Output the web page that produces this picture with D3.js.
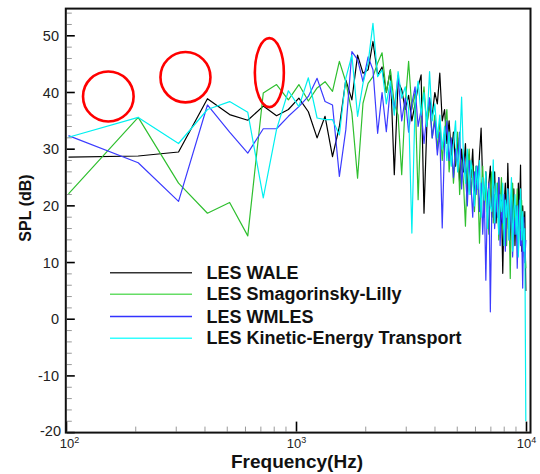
<!DOCTYPE html>
<html><head><meta charset="utf-8">
<script src="https://cdn.jsdelivr.net/npm/d3@7"></script>
<style>
html,body{margin:0;padding:0;background:#fff;}
svg{display:block;font-family:"Liberation Sans",Arial,Helvetica,sans-serif;}
</style></head>
<body>
<svg id="chart" width="540" height="474"></svg>
<script>
// ---------- data ----------
const freq = [102,205,307,410,512,614,717,819,922,1024,1126,1229,1331,1434,1536,1638,1741,1843,1946,2048,
2150,2253,2355,2458,2560,2662,2765,2867,2970,3072,3174,3277,3379,3482,3584,3686,3789,3891,3994,4096,
4198,4301,4403,4506,4608,4710,4813,4915,5018,5120,5222,5325,5427,5530,5632,5734,5837,5939,6042,6144,
6246,6349,6451,6554,6656,6758,6861,6963,7066,7168,7270,7373,7475,7578,7680,7782,7885,7987,8090,8192,
8294,8397,8499,8602,8704,8806,8909,9011,9114,9216,9318,9421,9523,9626,9728,9830,9933];

const wale = [28.6,28.8,29.5,38.9,36.1,35.1,37.6,35.9,37.0,39.0,36.6,32.0,35.8,28.7,34.0,42.2,38.7,46.6,43.4,44.0,
49.0,43.1,44.5,40.0,44.0,25.5,42.0,40.5,37.0,39.5,35.0,38.0,41.0,43.1,18.7,34.0,39.0,36.0,40.0,38.0,
43.4,35.0,37.0,31.0,35.0,29.0,33.0,27.0,32.0,24.0,30.0,26.0,31.0,22.0,29.0,25.0,30.0,21.0,27.0,23.0,
29.0,33.7,24.0,20.0,26.0,19.0,24.0,27.0,18.0,23.0,26.0,17.0,22.0,25.0,15.0,21.0,8.1,20.0,24.0,16.0,
27.5,19.0,14.0,22.0,17.0,23.0,13.0,20.0,16.0,24.0,18.0,27.2,12.0,20.0,15.0,19.0,5.0];

const smagorinsky = [22.1,35.6,24.0,18.7,20.6,14.7,39.9,41.4,38.7,41.4,38.5,40.8,41.9,40.2,45.5,41.9,36.4,24.9,38.1,41.6,
42.8,45.2,47.0,40.0,44.0,38.0,36.0,25.5,38.0,45.5,37.0,40.0,21.1,36.0,41.0,34.0,38.0,32.0,36.0,30.0,
35.0,28.0,33.0,37.0,26.0,31.0,24.0,29.0,33.0,22.0,28.0,24.0,16.4,26.0,30.0,22.0,27.0,19.0,25.0,24.0,
13.4,22.0,27.0,18.0,24.0,20.0,15.0,23.0,26.0,17.0,22.0,19.0,24.0,14.0,20.0,25.0,16.0,21.0,18.0,13.0,
22.0,19.0,7.2,21.0,24.0,15.0,20.0,17.0,23.0,12.0,19.0,16.0,21.0,11.0,17.0,14.0,9.0];

const wmles = [32.4,27.6,20.8,37.8,33.0,29.3,33.6,33.6,35.8,37.5,39.3,42.5,38.4,37.8,25.2,33.4,47.2,45.8,41.9,46.3,
44.0,32.8,40.0,33.1,41.0,37.0,43.0,35.0,39.0,33.0,38.0,41.0,34.0,37.0,31.0,36.0,39.0,32.0,35.0,29.0,
33.0,16.1,31.0,35.0,28.0,32.0,25.0,30.0,27.0,33.0,23.0,29.0,26.0,20.0,28.0,24.0,18.0,26.0,22.0,27.0,
19.0,24.0,15.0,22.0,6.9,21.0,24.0,1.3,20.0,23.0,16.0,21.0,18.0,25.0,13.0,20.0,17.0,22.0,12.0,19.0,
23.0,14.0,18.0,21.0,11.0,18.0,15.0,20.0,9.0,17.0,21.0,13.0,16.0,5.5,18.0,10.0,14.0];

const kineticEnergy = [32.1,35.6,31.0,37.0,38.4,36.5,21.4,33.5,40.3,37.5,42.6,35.5,35.2,35.2,32.5,42.5,46.6,35.8,41.6,45.2,
52.2,42.8,44.0,38.0,42.0,36.0,43.7,39.0,41.0,37.0,15.2,38.0,42.0,36.0,40.0,34.0,43.7,35.0,38.0,32.0,
36.0,30.0,34.0,28.0,33.0,27.0,31.0,35.0,26.0,30.0,39.2,28.0,24.0,30.0,22.0,28.0,25.0,20.0,27.0,23.0,
28.0,18.0,25.0,21.0,26.0,16.0,23.0,20.0,19.0,28.1,17.0,24.0,20.0,15.0,22.0,19.0,24.0,13.0,21.0,18.0,
23.0,14.0,20.0,25.0,12.0,19.0,22.0,15.0,20.0,11.0,18.0,23.0,14.0,19.0,12.0,16.0,-18.0];

const seriesNames = ["LES WALE","LES Smagorinsky-Lilly","LES WMLES","LES Kinetic-Energy Transport"];
const seriesValues = [wale, smagorinsky, wmles, kineticEnergy];
const seriesColors = ["#000000","#2fbf2f","#3b3bff","#00f0f0"];
const legendColors = ["#333333","#66dd66","#3333ff","#33ffff"];

const yTickValues = [-20,-10,0,10,20,30,40,50];
const xTickValues = [100,1000,10000];
const xTickExponents = ["2","3","4"];
// annotation centres (frequency, dB)
const annoFreq = [152, 329, 762];
const annoDb = [39.3, 42.7, 43.5];

// ---------- scales ----------
const svg = d3.select("#chart");
const x = d3.scaleLog().domain([100, 10000]).range([66.5, 526.5]);
const y = d3.scaleLinear().domain([-20, 54.8]).range([432.6, 8.6]);
const pL = 65.8, pR = 530.5, pT = y(54.8), pB = y(-20);

// clip
svg.append("defs").append("clipPath").attr("id","clip")
  .append("rect").attr("x",pL).attr("y",pT).attr("width",pR-pL).attr("height",pB-pT);

// ---------- lines ----------
const line = d3.line().x((d,i)=>x(freq[i])).y(d=>y(d));
const plot = svg.append("g").attr("clip-path","url(#clip)");
seriesValues.forEach((vals,si)=>{
  plot.append("path").datum(vals)
    .attr("d", line)
    .attr("fill","none")
    .attr("stroke", seriesColors[si])
    .attr("stroke-width", 1.2)
    .attr("stroke-linejoin","round");
});

// ---------- ticks ----------
const g = svg.append("g");
d3.range(-20, 55, 2).filter(v=>v%10!==0).forEach(v=>{
  g.append("line").attr("x1",pL+1).attr("x2",pL+6).attr("y1",y(v)).attr("y2",y(v))
   .attr("stroke","#999").attr("stroke-width",1);
});
yTickValues.forEach(v=>{
  g.append("line").attr("x1",pL+1).attr("x2",pL+9).attr("y1",y(v)).attr("y2",y(v))
   .attr("stroke","#000").attr("stroke-width",1.6);
  g.append("text").attr("x", v===-20 ? 61 : 59).attr("y", y(v)+(v===-20 ? 3.5 : 5.2))
   .attr("text-anchor","end").attr("font-size",14.5).attr("fill","#222").text(v);
});
[2,3,4,5,6,7,8,9].forEach(m=>{[100,1000].forEach(dec=>{
  const f = m*dec;
  g.append("line").attr("x1",x(f)).attr("x2",x(f)).attr("y1",pB-1).attr("y2",pB-6)
   .attr("stroke","#999").attr("stroke-width",1);
});});
xTickValues.forEach((v,i)=>{
  g.append("line").attr("x1",x(v)).attr("x2",x(v)).attr("y1",pB-1).attr("y2",pB-11)
   .attr("stroke","#000").attr("stroke-width",1.6);
  const t = g.append("text").attr("x",x(v) + (i===0 ? 3 : 0)).attr("y",447.5).attr("text-anchor","middle")
   .attr("font-size",13).attr("fill","#222");
  t.append("tspan").text("10");
  t.append("tspan").attr("font-size",9).attr("dy",-5).text(xTickExponents[i]);
});

// frame
svg.append("rect").attr("x",pL).attr("y",pT).attr("width",pR-pL).attr("height",pB-pT)
  .attr("fill","none").attr("stroke","#111").attr("stroke-width",2);

// axis titles
svg.append("text").attr("x",297).attr("y",467.5).attr("text-anchor","middle")
  .attr("font-size",19).attr("font-weight","bold").attr("fill","#111").text("Frequency(Hz)");
svg.append("text").attr("transform","translate(31,208) rotate(-90)").attr("text-anchor","middle")
  .attr("font-size",16).attr("font-weight","bold").attr("fill","#111").text("SPL (dB)");

// ---------- legend ----------
const legY = [272.7, 294.3, 316.5, 338.3];
const leg = svg.append("g");
seriesNames.forEach((n,i)=>{
  leg.append("line").attr("x1",110).attr("x2",192).attr("y1",legY[i]).attr("y2",legY[i])
    .attr("stroke",legendColors[i]).attr("stroke-width",1.5);
  leg.append("text").attr("x",206.5).attr("y",legY[i]+6).attr("font-size",18)
    .attr("font-weight","bold").attr("fill","#111").text(n);
});

// ---------- annotations ----------
const annoR = [[25.3,25],[25,25.2],[14.5,34.5]];
annoFreq.forEach((f,i)=>{
  svg.append("ellipse").attr("cx",x(f)).attr("cy",y(annoDb[i]))
    .attr("rx",annoR[i][0]).attr("ry",annoR[i][1])
    .attr("fill","none").attr("stroke","#ff0000").attr("stroke-width",2.6);
});
</script>
</body></html>
